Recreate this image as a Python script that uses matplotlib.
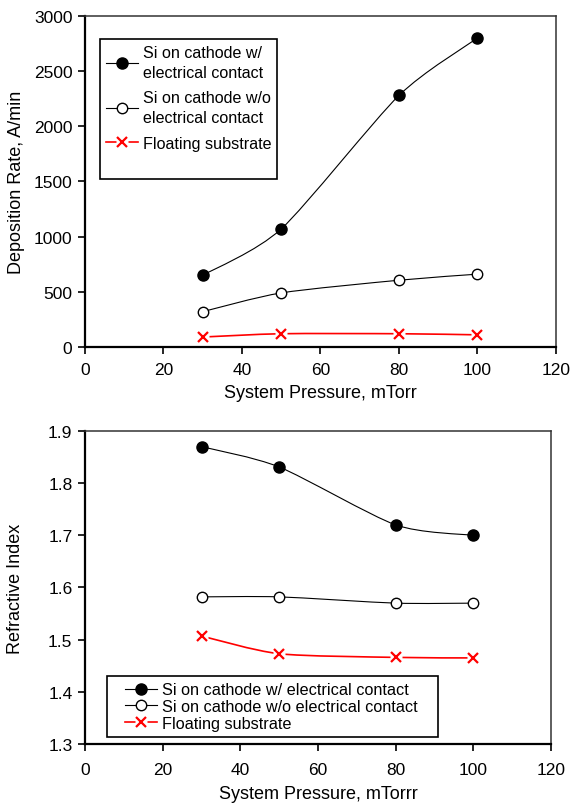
import matplotlib
matplotlib.use("Agg")
import numpy as np
import matplotlib.pyplot as plt
from matplotlib.path import Path
from matplotlib.patches import PathPatch
from matplotlib.lines import Line2D
from matplotlib.legend_handler import HandlerTuple, HandlerLine2D

plt.rcParams['font.family'] = ['Liberation Sans', 'DejaVu Sans']
plt.rcParams['font.size'] = 12

pressure = [30, 50, 80, 100]

# deposition rate, A/min
rate_contact = [650, 1070, 2280, 2800]
rate_no_contact = [320, 490, 605, 660]
rate_floating = [90, 120, 120, 110]

# refractive index
ri_contact = [1.870, 1.831, 1.720, 1.700]
ri_no_contact = [1.582, 1.582, 1.570, 1.570]
ri_floating = [1.507, 1.473, 1.466, 1.465]

labels_top = ['Si on cathode w/\nelectrical contact',
              'Si on cathode w/o\nelectrical contact',
              'Floating substrate']
labels_bottom = ['Si on cathode w/ electrical contact',
                 'Si on cathode w/o electrical contact',
                 'Floating substrate']


class OffsetLine(HandlerLine2D):
    # legend line drawn a bit to the right of where the handle box starts
    def __init__(self, offset=0.0, **kw):
        super().__init__(**kw)
        self.offset = offset

    def create_artists(self, legend, orig_handle, xdescent, ydescent, width, height, fontsize, trans):
        return super().create_artists(legend, orig_handle, xdescent - self.offset, ydescent,
                                      width - self.offset, height, fontsize, trans)


def smooth_path(x, y, k=8.0):
    # spreadsheet-style smoothed line: cubic bezier through every point
    pts = np.column_stack([x, y]).astype(float)
    ext = np.vstack([pts[0], pts, pts[-1]])
    verts = [pts[0]]
    codes = [Path.MOVETO]
    for i in range(1, len(ext) - 2):
        p0, p1, p2, p3 = ext[i - 1], ext[i], ext[i + 1], ext[i + 2]
        verts += [p1 + (p2 - p0) / k, p2 - (p3 - p1) / k, p2]
        codes += [Path.CURVE4] * 3
    return Path(verts, codes)


def draw_series(ax, x, y, kind):
    if kind == 'filled':
        ax.add_patch(PathPatch(smooth_path(x, y), fill=False, edgecolor='black', lw=0.8, zorder=2))
        ax.plot(x, y, ls='none', marker='o', ms=8, mfc='black', mec='black', zorder=3)
    elif kind == 'open':
        ax.add_patch(PathPatch(smooth_path(x, y), fill=False, edgecolor='black', lw=0.8, zorder=2))
        ax.plot(x, y, ls='none', marker='o', ms=7.5, mfc='white', mec='black', mew=1, zorder=3)
    else:
        ax.add_patch(PathPatch(smooth_path(x, y), fill=False, edgecolor='red', lw=1.2, zorder=2))
        ax.plot(x, y, ls='none', marker='s', ms=8, mfc='white', mec='none', zorder=3)
        ax.plot(x, y, ls='none', marker='x', ms=7, mec='red', mew=1.6, zorder=4)


def legend_handles(offset=0.0):
    h1 = Line2D([], [], color='black', lw=0.8, marker='o', ms=8, mfc='black', mec='black')
    h2 = Line2D([], [], color='black', lw=0.8, marker='o', ms=7.5, mfc='white', mec='black')
    parts = (Line2D([], [], color='red', lw=1.2),
             Line2D([], [], ls='none', marker='s', ms=8, mfc='white', mec='none'),
             Line2D([], [], ls='none', marker='x', ms=7, mec='red', mew=1.6))
    hmap = {tuple: HandlerTuple(ndivide=1)}
    for h in (h1, h2) + parts:
        hmap[h] = OffsetLine(offset)
    return [h1, h2, parts], hmap


def style_axes(ax, pad):
    for side in ['left', 'bottom']:
        ax.spines[side].set_linewidth(1.6)
    for side in ['top', 'right']:
        ax.spines[side].set_linewidth(1.1)
        ax.spines[side].set_color('#333333')
    ax.tick_params(direction='out', length=5, width=1.2, top=False, right=False,
                   labelsize=12.5, pad=4)
    ax.tick_params(axis='x', pad=pad)
    ax.set_xlim(0, 120)
    ax.set_xticks(np.arange(0, 121, 20))


fig = plt.figure(figsize=(5.72, 8.04), dpi=100)
ax1 = fig.add_axes([0.1486, 0.5672, 0.8234, 0.4117])
ax2 = fig.add_axes([0.1486, 0.0734, 0.8147, 0.3893])

draw_series(ax1, pressure, rate_contact, 'filled')
draw_series(ax1, pressure, rate_no_contact, 'open')
draw_series(ax1, pressure, rate_floating, 'cross')
style_axes(ax1, pad=6)
ax1.set_ylim(0, 3000)
ax1.set_yticks(np.arange(0, 3001, 500))
ax1.set_xlabel('System Pressure, mTorr', fontsize=13, labelpad=5)
ax1.set_ylabel('Deposition Rate, A/min', fontsize=13)
ax1.yaxis.set_label_coords(-0.128, 0.5)

# blank last entry leaves the empty strip at the bottom of the box
h1, map1 = legend_handles()
leg1 = ax1.legend(h1 + [Line2D([], [], color='none')], labels_top + [' '],
                  loc='upper left', bbox_to_anchor=(0.032, 0.93),
                  borderaxespad=0, fancybox=False, edgecolor='black', framealpha=1,
                  handlelength=2.0, handletextpad=0.3, labelspacing=0.67,
                  borderpad=0.35, fontsize=11.6, handler_map=map1)
leg1.get_frame().set_linewidth(1.2)
plt.setp(leg1.get_texts(), linespacing=1.4)
leg1.get_texts()[-1].set_fontsize(1)

draw_series(ax2, pressure, ri_contact, 'filled')
draw_series(ax2, pressure, ri_no_contact, 'open')
draw_series(ax2, pressure, ri_floating, 'cross')
style_axes(ax2, pad=8)
ax2.set_ylim(1.3, 1.9)
ax2.set_yticks(np.round(np.arange(1.3, 1.91, 0.1), 1))
ax2.set_xlabel('System Pressure, mTorrr', fontsize=13, labelpad=6)
ax2.set_ylabel('Refractive Index', fontsize=13)
ax2.yaxis.set_label_coords(-0.13, 0.5)

h2, map2 = legend_handles(offset=8)
leg2 = ax2.legend(h2, labels_bottom, loc='lower left',
                  bbox_to_anchor=(0.047, 0.022, 0.710, 0.2), mode='expand',
                  borderaxespad=0, fancybox=False, edgecolor='black', framealpha=1,
                  handlelength=2.7, handletextpad=0.3, labelspacing=0.1,
                  borderpad=0.4, fontsize=11.7, handler_map=map2)
leg2.get_frame().set_linewidth(1.2)

fig.savefig('out.png', dpi=100)
